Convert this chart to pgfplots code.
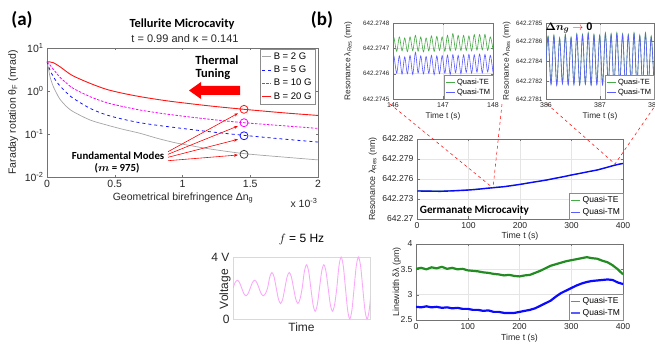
\documentclass[border=0pt]{standalone}
\usepackage{pgfplots}
\pgfplotsset{compat=1.18}
\usepackage{amsmath}
\usepackage{fontspec}
\setmainfont{Liberation Sans}
\newfontfamily\calfont{Carlito}
\usetikzlibrary{arrows.meta}
\definecolor{cgray}{RGB}{165,165,165}
\definecolor{cblue}{RGB}{20,20,255}
\definecolor{cmag}{RGB}{255,0,255}
\definecolor{cred}{RGB}{255,20,20}
\definecolor{tegreen}{RGB}{34,139,34}
\definecolor{tmblue}{RGB}{10,10,255}
\definecolor{telt}{RGB}{70,170,70}
\definecolor{tmlt}{RGB}{90,90,255}
\definecolor{pinkv}{RGB}{250,170,250}
\newcommand\fs[1]{\fontsize{#1}{#1}\selectfont}
\pgfplotsset{
  mat/.style={scale only axis, anchor=south west, tick align=inside,
    axis line style={black!55}, tick style={black!55}, major tick length=2.5pt,
    scaled ticks=false, /pgf/number format/assume math mode=true,
    ticklabel style={text=black!85}, label style={text=black!85},
    legend cell align=left,
    legend style={draw=black!45, fill=white, inner sep=1pt, outer sep=0pt},
    legend image code/.code={\draw[##1] (0pt,0pt)--(9pt,0pt);}},
  grd/.style={grid=major, grid style={black!10}},
}
\begin{document}
\begin{tikzpicture}[x=1pt,y=1pt]
\useasboundingbox (0,0) rectangle (655,345);

% ---------------- panel (a)
\begin{axis}[mat, at={(47pt,168pt)}, width=271pt, height=129pt,
 ymode=log, xmin=0, xmax=2, ymin=0.01, ymax=10,
 xtick={0,0.5,1,1.5,2}, xticklabels={0,0.5,1,1.5,2},
 ytick={0.01,0.1,1,10},
 yticklabels={10\textsuperscript{-2},10\textsuperscript{-1},10\textsuperscript{0},10\textsuperscript{1}},
 yminorticks=false,
 ticklabel style={font=\fs{10.5}},
 xlabel={Geometrical birefringence Δn\textsubscript{g}},
 ylabel={Faraday rotation θ\textsubscript{F} (mrad)},
 label style={font=\fs{10.5}},
 xlabel style={at={(axis description cs:0.502,-0.163)}, anchor=center},
 ylabel style={at={(axis description cs:-0.125,0.5)}, anchor=center},
 legend style={at={(axis description cs:0.989,0.992)}, anchor=north east, font=\fs{9.5}, row sep=1.2pt, inner sep=1.5pt},
]
\addplot[cgray, line width=0.7pt, smooth] coordinates {
(0,4.8) (0.011,3.37) (0.022,2.15) (0.047,1.26) (0.071,0.885) (0.096,0.641) (0.145,0.432) (0.194,0.33) (0.317,0.212) (0.44,0.162) (0.563,0.128) (0.686,0.104) (0.81,0.08) (0.932,0.064) (1.0,0.058) (1.2,0.045) (1.454,0.035) (1.75,0.029) (2.0,0.025)};
\addlegendentry{B = 2 G}
\addplot[cblue, line width=0.8pt, dashed, smooth] coordinates {
(0,4.8) (0.022,3.08) (0.047,2.15) (0.071,1.64) (0.096,1.31) (0.145,0.91) (0.194,0.676) (0.317,0.396) (0.44,0.277) (0.563,0.22) (0.686,0.183) (0.81,0.16) (0.932,0.143) (1.2,0.113) (1.454,0.093) (1.75,0.076) (2.0,0.065)};
\addlegendentry{B = 5 G}
\addplot[cmag, line width=0.8pt, dash pattern=on 2.5pt off 1.5pt, smooth] coordinates {
(0,4.8) (0.022,4.03) (0.047,3.19) (0.071,2.58) (0.096,2.08) (0.145,1.51) (0.194,1.15) (0.317,0.74) (0.44,0.536) (0.563,0.433) (0.686,0.361) (0.81,0.313) (0.932,0.277) (1.2,0.22) (1.454,0.183) (1.75,0.155) (2.0,0.135)};
\addlegendentry{B = 10 G}
\addplot[cred, line width=0.9pt, smooth] coordinates {
(0,4.8) (0.02,4.75) (0.047,4.55) (0.096,3.67) (0.145,2.81) (0.194,2.23) (0.317,1.51) (0.44,1.09) (0.563,0.88) (0.686,0.74) (0.81,0.64) (0.932,0.565) (1.2,0.45) (1.454,0.375) (1.75,0.31) (2.0,0.27)};
\addlegendentry{B = 20 G}
\addplot[only marks, mark=o, mark size=4pt, cred, line width=0.8pt, forget plot] coordinates {(1.454,0.375)};
\addplot[only marks, mark=o, mark size=4pt, cmag, line width=0.8pt, forget plot] coordinates {(1.454,0.183)};
\addplot[only marks, mark=o, mark size=4pt, cblue, line width=0.8pt, forget plot] coordinates {(1.454,0.091)};
\addplot[only marks, mark=o, mark size=4pt, black!75, line width=0.8pt, forget plot] coordinates {(1.454,0.0337)};
\end{axis}

% ---------------- panel (b) top-left
\begin{axis}[mat, grd, at={(393pt,246pt)}, width=100pt, height=76pt,
 xmin=146, xmax=148, ymin=0, ymax=3,
 xtick={146,147,148}, ytick={0,1,2,3},
 yticklabels={642.2745,642.2746,642.2747,642.2748},
 yticklabel style={font=\fs{6.3}}, xticklabel style={font=\fs{7}},
 xlabel={Time t (s)}, ylabel={Resonance λ\textsubscript{Res} (nm)},
 label style={font=\fs{8.3}},
 xlabel style={at={(axis description cs:0.5,-0.224)}, anchor=center},
 ylabel style={at={(axis description cs:-0.447,0.5)}, anchor=center},
 legend style={at={(axis description cs:1,0)}, anchor=south east, font=\fs{7.5}, row sep=-0.5pt},
]
\addplot[telt, line width=0.6pt, smooth] coordinates {
(146.000,2.15) (146.020,2.41) (146.074,1.88) (146.127,2.45) (146.181,1.90) (146.234,2.41) (146.288,1.87) (146.341,2.45) (146.395,1.91) (146.448,2.51) (146.502,1.89) (146.555,2.45) (146.609,1.86) (146.662,2.41) (146.716,1.90) (146.769,2.49) (146.823,1.88) (146.876,2.47) (146.930,1.92) (146.983,2.45) (147.037,1.89) (147.090,2.51) (147.144,1.90) (147.197,2.58) (147.251,1.93) (147.304,2.51) (147.358,1.91) (147.411,2.51) (147.465,1.92) (147.518,2.49) (147.572,1.90) (147.625,2.54) (147.679,1.93) (147.732,2.54) (147.786,1.94) (147.839,2.55) (147.893,1.92) (147.946,2.45) (148.000,1.95)};
\addlegendentry{Quasi-TE}
\addplot[tmlt, line width=0.6pt, smooth] coordinates {
(146.000,1.35) (146.020,1.68) (146.074,1.02) (146.127,1.70) (146.181,0.98) (146.234,1.66) (146.288,1.00) (146.341,1.72) (146.395,0.97) (146.448,1.84) (146.502,1.03) (146.555,1.70) (146.609,0.99) (146.662,1.68) (146.716,1.01) (146.769,1.72) (146.823,0.96) (146.876,1.70) (146.930,1.00) (146.983,1.71) (147.037,1.02) (147.090,1.73) (147.144,0.97) (147.197,1.75) (147.251,1.04) (147.304,1.72) (147.358,1.00) (147.411,1.74) (147.465,1.05) (147.518,1.76) (147.572,1.02) (147.625,1.74) (147.679,1.06) (147.732,1.77) (147.786,1.03) (147.839,1.76) (147.893,1.07) (147.946,1.72) (148.000,1.05)};
\addlegendentry{Quasi-TM}
\end{axis}

% ---------------- panel (b) top-right
\begin{axis}[mat, grd, at={(546pt,246pt)}, width=108pt, height=76pt,
 xmin=386, xmax=388, ymin=0.2, ymax=7.8,
 xtick={386,387,388}, ytick={0.2,2,4,6,7.8},
 yticklabels={642.2781,642.2782,642.2784,642.2786,642.2785},
 yticklabel style={font=\fs{6.3}}, xticklabel style={font=\fs{7}},
 xlabel={Time t (s)}, ylabel={Resonance λ\textsubscript{Res} (nm)},
 label style={font=\fs{8.3}},
 xlabel style={at={(axis description cs:0.5,-0.224)}, anchor=center},
 ylabel style={at={(axis description cs:-0.364,0.5)}, anchor=center},
 legend style={at={(axis description cs:1,0)}, anchor=south east, font=\fs{7.5}, row sep=-0.5pt},
]
\addplot[telt, line width=0.6pt, smooth] coordinates {
(386.000,3.95) (386.040,6.52) (386.093,1.70) (386.146,6.62) (386.199,1.60) (386.252,6.35) (386.305,1.75) (386.358,6.69) (386.411,1.65) (386.464,6.42) (386.517,1.67) (386.570,6.75) (386.623,1.63) (386.676,6.69) (386.729,1.71) (386.782,6.85) (386.835,1.61) (386.888,6.69) (386.941,1.68) (386.994,6.62) (387.047,1.65) (387.100,6.85) (387.153,1.73) (387.206,6.75) (387.259,1.60) (387.312,6.85) (387.365,1.69) (387.418,6.75) (387.471,1.65) (387.524,6.69) (387.577,1.71) (387.630,6.85) (387.683,1.63) (387.736,6.62) (387.789,1.67) (387.842,6.85) (387.895,1.70) (387.948,6.52) (388.000,1.65)};
\addlegendentry{Quasi-TE}
\addplot[tmlt, line width=0.6pt, smooth] coordinates {
(386.000,3.90) (386.040,6.40) (386.093,1.65) (386.146,6.50) (386.199,1.55) (386.252,6.23) (386.305,1.70) (386.358,6.57) (386.411,1.60) (386.464,6.30) (386.517,1.62) (386.570,6.63) (386.623,1.58) (386.676,6.57) (386.729,1.66) (386.782,6.73) (386.835,1.56) (386.888,6.57) (386.941,1.63) (386.994,6.50) (387.047,1.60) (387.100,6.73) (387.153,1.68) (387.206,6.63) (387.259,1.55) (387.312,6.73) (387.365,1.64) (387.418,6.63) (387.471,1.60) (387.524,6.57) (387.577,1.66) (387.630,6.73) (387.683,1.58) (387.736,6.50) (387.789,1.62) (387.842,6.73) (387.895,1.65) (387.948,6.40) (388.000,1.60)};
\addlegendentry{Quasi-TM}
\end{axis}

% ---------------- panel (b) middle
\begin{axis}[mat, grd, at={(417pt,126pt)}, width=206pt, height=80pt,
 xmin=0, xmax=400, ymin=0, ymax=12,
 xtick={0,100,200,300,400}, ytick={0,3,6,9,12},
 yticklabels={642.27,642.273,642.276,642.279,642.282},
 ticklabel style={font=\fs{8.6}},
 xlabel={Time t (s)}, ylabel={Resonance λ\textsubscript{Res} (nm)},
 label style={font=\fs{8.8}},
 xlabel style={at={(axis description cs:0.5,-0.21)}, anchor=center},
 ylabel style={at={(axis description cs:-0.214,0.5)}, anchor=center},
 legend style={at={(axis description cs:1,0)}, anchor=south east, font=\fs{8.5}, row sep=0pt},
]
\addplot[tegreen!60, line width=0.9pt, forget plot] coordinates {
(0,4.25) (20,4.24) (45,4.21) (70,4.28) (91,4.36) (110,4.45) (123,4.55) (149,4.74) (170,4.89) (188,5.08) (205,5.28) (220,5.47) (236,5.67) (252,5.87) (268,6.12) (285,6.37) (300,6.62) (317,6.87) (333,7.12) (350,7.37) (366,7.70) (382,8.05) (390,8.20) (400,8.35)};
\addplot[tmblue, line width=1.4pt, forget plot] coordinates {
(0,4.2) (20,4.18) (45,4.15) (70,4.22) (91,4.3) (110,4.4) (123,4.5) (149,4.7) (170,4.85) (188,5.05) (205,5.25) (220,5.45) (236,5.65) (252,5.85) (268,6.1) (285,6.35) (300,6.6) (317,6.85) (333,7.1) (350,7.35) (366,7.68) (382,8.03) (390,8.18) (400,8.33)};
\addlegendimage{telt, line width=1.2pt}
\addlegendentry{Quasi-TE}
\addlegendimage{tmlt, line width=1.2pt}
\addlegendentry{Quasi-TM}
\end{axis}

% ---------------- panel (b) bottom
\begin{axis}[mat, grd, at={(416pt,25pt)}, width=207pt, height=76pt,
 xmin=0, xmax=400, ymin=2.5, ymax=4,
 xtick={0,100,200,300,400}, ytick={2.5,3,3.5,4},
 ticklabel style={font=\fs{8.6}},
 xlabel={Time t (s)}, ylabel={Linewidth δλ (pm)},
 label style={font=\fs{8.8}},
 xlabel style={at={(axis description cs:0.5,-0.237)}, anchor=center},
 ylabel style={at={(axis description cs:-0.092,0.5)}, anchor=center},
 legend style={at={(axis description cs:1,0)}, anchor=south east, font=\fs{8.5}, row sep=0pt},
]
\addplot[tegreen, line width=2.2pt, line join=round, forget plot] coordinates {
(0,3.51) (10,3.53) (20,3.50) (30,3.54) (40,3.52) (50,3.55) (60,3.51) (70,3.53) (80,3.50) (90,3.51) (100,3.48) (110,3.47) (120,3.46) (130,3.44) (140,3.43) (150,3.41) (160,3.40) (170,3.38) (180,3.39) (190,3.37) (200,3.36) (210,3.38) (220,3.39) (230,3.43) (240,3.47) (250,3.52) (260,3.57) (270,3.60) (280,3.63) (290,3.66) (300,3.68) (310,3.70) (320,3.72) (330,3.74) (340,3.72) (350,3.71) (360,3.67) (370,3.64) (380,3.58) (390,3.50) (400,3.40)};
\addplot[tmblue, line width=2.2pt, line join=round, forget plot] coordinates {
(0,2.76) (10,2.75) (20,2.77) (30,2.75) (40,2.76) (50,2.74) (60,2.75) (70,2.73) (80,2.74) (90,2.72) (100,2.72) (110,2.70) (120,2.70) (130,2.68) (140,2.69) (150,2.66) (160,2.66) (170,2.64) (180,2.64) (190,2.64) (200,2.66) (210,2.68) (220,2.70) (230,2.73) (240,2.78) (250,2.83) (260,2.88) (270,2.96) (280,3.03) (290,3.08) (300,3.13) (310,3.18) (320,3.22) (330,3.25) (340,3.27) (350,3.28) (360,3.29) (370,3.30) (380,3.29) (390,3.24) (400,3.21)};
\addlegendimage{telt, line width=1.4pt}
\addlegendentry{Quasi-TE}
\addlegendimage{tmlt, line width=1.4pt}
\addlegendentry{Quasi-TM}
\end{axis}

% ---------------- sine inset
\begin{axis}[mat, at={(233pt,26pt)}, width=137pt, height=62pt,
 xmin=0, xmax=137, ymin=0, ymax=4,
 axis line style={black!15}, major tick length=0pt,
 xtick=\empty, ytick={0,4}, yticklabels={0,4 V},
 ticklabel style={font=\fs{12}},
 title={$f$ = 5 Hz}, title style={at={(axis description cs:0.5,1.19)}, anchor=center, font=\fs{12}},
 xlabel={Time}, ylabel={Voltage}, label style={font=\fs{12}},
 xlabel style={at={(axis description cs:0.5,-0.13)}, anchor=center},
 ylabel style={at={(axis description cs:-0.058,0.48)}, anchor=center},
]
\addplot[pinkv, line width=0.9pt, smooth] coordinates {
(0,2) (2.16,2.354) (4.33,2.5) (6.49,2.354) (8.65,2) (10.81,1.646) (12.98,1.5) (15.14,1.646)
(17.3,2) (19.46,2.354) (21.63,2.5) (23.79,2.354) (25.95,2) (28.11,1.646) (30.28,1.5) (32.44,1.646)
(34.6,2) (36.76,2.707) (38.93,3) (41.09,2.707) (43.25,2) (45.41,1.293) (47.58,1) (49.74,1.293)
(51.9,2) (54.06,2.707) (56.23,3) (58.39,2.707) (60.55,2) (62.71,1.293) (64.88,1) (67.04,1.293)
(69.2,2) (71.36,3.061) (73.53,3.5) (75.69,3.061) (77.85,2) (80.01,0.939) (82.18,0.5) (84.34,0.939)
(86.5,2) (88.66,3.061) (90.83,3.5) (92.99,3.061) (95.15,2) (97.31,0.939) (99.48,0.5) (101.64,0.939)
(103.8,2) (105.96,3.414) (108.13,4) (110.29,3.414) (112.45,2) (114.61,0.586) (116.78,0) (118.94,0.586)
(121.1,2) (123.26,3.414) (125.43,4) (127.59,3.414) (129.75,2) (131.91,0.586) (134.08,0) (136.24,0.586) (138.4,2)};
\end{axis}

% ---------------- annotations
\node[font=\calfont\bfseries\fs{19}] at (22,325) {(a)};
\node[font=\calfont\bfseries\fs{19}] at (322,325) {(b)};
\node[font=\calfont\bfseries\fs{12.4}] at (182,321) {Tellurite Microcavity};
\node[font=\fs{11}, text=black!85] at (185,306) {t = 0.99 and κ = 0.141};
\node[font=\calfont\bfseries\fs{12.5}] at (217,285) {Thermal};
\node[font=\calfont\bfseries\fs{12.5}] at (213,271) {Tuning};
\fill[red] (240,259) -- (201,259) -- (201,263) -- (189,254.5) -- (201,246) -- (201,250) -- (240,250) -- cycle;
\node[font=\calfont\bfseries\fs{10.8}] at (118,189) {Fundamental Modes};
\node[font=\calfont\bfseries\fs{10.8}] at (117,177) {($\boldsymbol{m}$ = 975)};
\draw[red, line width=0.6pt, -{Stealth[length=4pt,width=3pt]}] (168,193.3) -- (238,231.7);
\draw[red, line width=0.6pt, -{Stealth[length=4pt,width=3pt]}] (168,190.7) -- (238,219);
\draw[red, line width=0.6pt, -{Stealth[length=4pt,width=3pt]}] (168,187.7) -- (238,205.7);
\draw[red, line width=0.6pt, -{Stealth[length=4pt,width=3pt]}] (168,184.3) -- (238,190);
\node[font=\fs{10.5}, text=black!85] at (304,142) {x 10\textsuperscript{-3}};
\node[font=\calfont\bfseries\fs{11.2}] at (474.5,135) {Germanate Microcavity};
\node[font=\fs{11}] at (569,317) {$\boldsymbol{\Delta n_g}$ \textcolor{red}{$\rightarrow$} $\mathbf{0}$};
\draw[red, dashed, line width=0.5pt] (390,241) -- (493,157);
\draw[red, dashed, line width=0.5pt] (502,241) -- (493,157);
\draw[red, dashed, line width=0.5pt] (547,241) -- (615,181);
\draw[red, dashed, line width=0.5pt] (657,242) -- (615,181);
\end{tikzpicture}
\end{document}
